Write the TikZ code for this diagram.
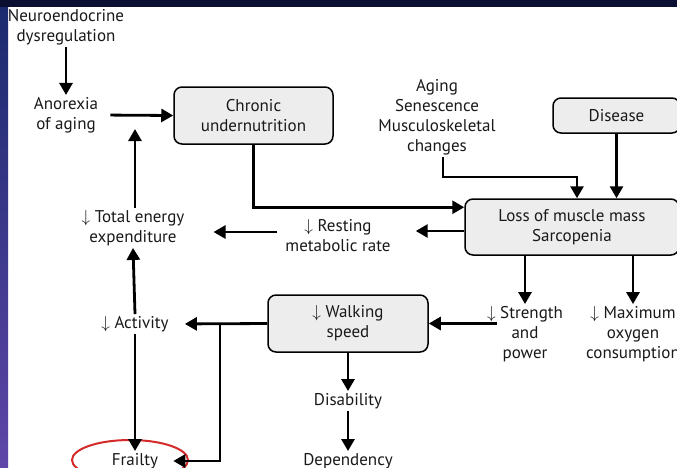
\documentclass[tikz,border=0pt]{standalone}
\usepackage{fontspec}
\setmainfont{PT Sans}
\usetikzlibrary{arrows.meta,calc}
\definecolor{navybar}{HTML}{0B1033}
\definecolor{sidetop}{HTML}{1B2A6E}
\definecolor{sidemid}{HTML}{3A4DB0}
\definecolor{sidebot}{HTML}{5E46A8}
\definecolor{frailred}{HTML}{D42A2A}
\definecolor{boxgray}{HTML}{EDEDED}
\tikzset{
  txt/.style={font=\fontsize{17}{20}\selectfont, align=center, inner sep=2pt, text=black!90},
  boxnode/.style={txt, draw, line width=1.5pt, rounded corners=8pt, fill=boxgray},
  arr/.style={line width=2.8pt, -{Triangle[length=12pt,width=13pt]}},
}

\begin{document}
\begin{tikzpicture}[x=1pt,y=-1pt]
  \useasboundingbox (0,0) rectangle (677,467);
  \clip (0,0) rectangle (677,467);
  % slide background
  \fill[white] (0,0) rectangle (677,467);
  \fill[navybar] (0,0) rectangle (677,7);
  \shade[top color=sidetop, middle color=sidemid, bottom color=sidebot] (0,7) rectangle (8,467);
  % causes
  \node[txt] (neuro) at (66,27) {Neuroendocrine\\dysregulation};
  \node[txt] (anorexia) at (66,115) {Anorexia\\of aging};
  \node[boxnode, minimum width=159pt, minimum height=57pt] (chronic) at (253.5,115.5) {Chronic\\undernutrition};
  \node[txt] (aging) at (437,117) {Aging\\Senescence\\Musculoskeletal\\changes};
  \node[boxnode, minimum width=127pt, minimum height=35pt] (disease) at (616.5,115.5) {Disease};
  % sarcopenia and its effects
  \node[boxnode, minimum width=214pt, minimum height=56pt] (loss) at (572,227) {Loss of muscle mass\\Sarcopenia};
  \node[txt] (resting) at (338,236) {$\downarrow$ Resting\\metabolic rate};
  \node[txt] (total) at (133,228) {$\downarrow$ Total energy\\expenditure};
  \node[txt] (strength) at (525,334) {$\downarrow$ Strength\\and\\power};
  \node[txt] (maximum) at (633,334) {$\downarrow$ Maximum\\oxygen\\consumption};
  \node[boxnode, minimum width=160pt, minimum height=57pt] (walking) at (348,323.5) {$\downarrow$ Walking\\speed};
  \node[txt] (activity) at (135,324) {$\downarrow$ Activity};
  \node[txt] (disability) at (348,401) {Disability};
  \node[txt] (dependency) at (348,461) {Dependency};
  \node[txt] (frailty) at (135,461) {Frailty};
  \draw[frailred, line width=2pt] (130,460) ellipse [x radius=58pt, y radius=20pt];
  % helper points
  \coordinate (upend) at (135,129);
  \coordinate (branch) at (220,323.5);
  \coordinate (restr) at ($(resting.east)+(0,-5)$);
  \coordinate (restl) at ($(resting.west)+(-6,-4)$);
  % connectors
  \draw[arr] (neuro.south) -- (anorexia.north);
  \draw[arr, shorten <=10pt] (anorexia.east) -- (chronic.west);
  \draw[arr] (total.north -| upend) -- (upend);
  \draw[arr] (chronic.south) |- ($(loss.north west)+(0,9)$);
  \draw[arr] ($(aging.south)+(6,0)$) -- ++(0,20) -| ($(loss.north)+(5,0)$);
  \draw[arr] (disease.south) -- (disease.south |- loss.north);
  \draw[arr, shorten >=23pt] (loss.west |- restr) -- (restr);
  \draw[arr, shorten >=27pt] (restl) -- (total.east |- restl);
  \draw[arr] (loss.south -| strength.north) -- (strength.north);
  \draw[arr] (loss.south -| maximum.north) -- (maximum.north);
  \draw[arr, shorten <=-12pt] (strength.west |- walking.east) -- (walking.east);
  \draw[arr, shorten >=14pt] (walking.west) -- (activity.east);
  \draw[arr, shorten >=13pt] (branch) |- (frailty.east);
  \draw[arr] (activity.north) -- (total.south);
  \draw[arr] (activity.south) -- (frailty.north);
  \draw[arr] (walking.south) -- (disability.north);
  \draw[arr] (disability.south) -- (dependency.north);
\end{tikzpicture}
\end{document}
